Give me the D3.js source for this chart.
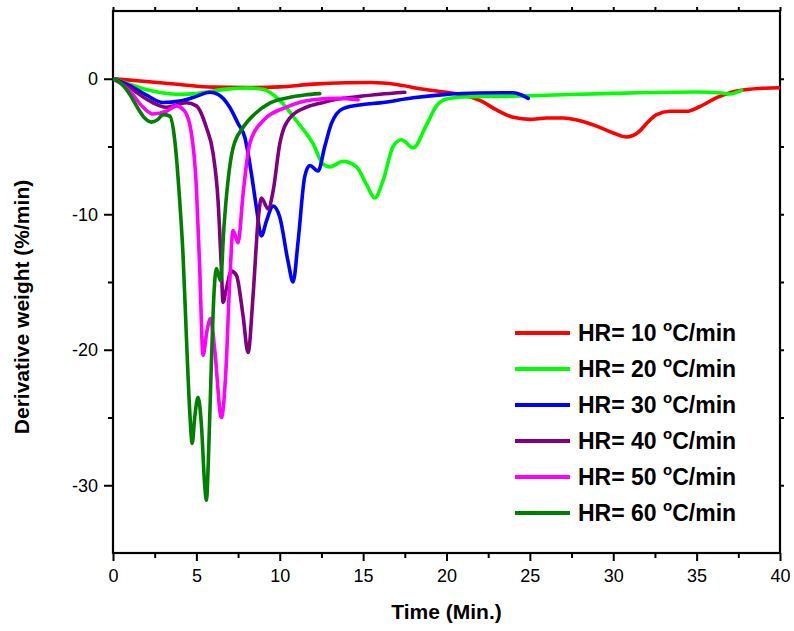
<!DOCTYPE html>
<html>
<head>
<meta charset="utf-8">
<script src="https://cdn.jsdelivr.net/npm/d3@7"></script>
<style>
  body { margin: 0; background: #fff; }
  svg { font-family: "Liberation Sans", Arial, sans-serif; }
</style>
</head>
<body>
<svg id="chart" width="794" height="631"></svg>
<script>
// heating rates shown in the legend
var rates = [10, 20, 30, 40, 50, 60];
var colors = ['#ff0000', '#00ff00', '#0000ff', '#800080', '#ff00ff', '#008000'];

// DTG curves, [time (min), derivative weight (%/min)]
var hr10 = [[0,0],[2,-0.2],[4,-0.42],[6,-0.62],[8,-0.65],[10,-0.6],[12,-0.4],[14,-0.3],[15.5,-0.28],[17,-0.42],[18.5,-0.75],[20,-1.0],[21,-1.2],[22,-1.6],[23,-2.3],[24,-2.85],[25,-3.0],[26,-2.9],[27,-2.9],[28,-3.1],[29,-3.5],[30,-4.0],[30.8,-4.3],[31.5,-3.95],[32,-3.3],[32.6,-2.65],[33.4,-2.4],[34.4,-2.4],[35.2,-2.05],[36.2,-1.4],[37,-1.03],[38,-0.8],[39,-0.7],[40,-0.66]];
var hr20 = [[0,0],[1,-0.4],[2,-0.8],[3,-1.05],[4,-1.15],[5,-1.1],[6,-0.9],[7,-0.75],[8,-0.68],[9,-0.78],[10,-1.6],[11,-3.1],[12,-4.8],[12.6,-6.3],[13,-6.5],[13.8,-6.1],[14.6,-6.5],[15.2,-7.8],[15.7,-8.8],[16.2,-7.5],[16.8,-5.0],[17.3,-4.5],[18,-5.1],[18.8,-3.4],[19.4,-2.0],[20,-1.5],[21,-1.35],[23,-1.3],[25,-1.25],[30,-1.08],[35,-0.98],[36.5,-1.05],[37,-1.12],[37.7,-0.86]];
var hr30 = [[0,0],[1,-0.5],[2,-1.2],[3,-1.75],[4,-1.65],[5,-1.3],[5.8,-1.0],[6.3,-1.15],[7,-2.1],[7.5,-3.3],[7.9,-4.3],[8.3,-7],[8.6,-9.5],[8.9,-11.6],[9.2,-10.5],[9.6,-9.4],[10,-10.2],[10.5,-13.5],[10.8,-15],[11.1,-12],[11.5,-7.2],[11.8,-6.4],[12.3,-6.8],[12.7,-5],[13.1,-3.3],[13.8,-2.2],[15,-1.9],[16,-1.78],[18,-1.4],[20,-1.15],[22,-1.05],[24,-1.03],[24.5,-1.2],[24.9,-1.45]];
var hr40 = [[0,0],[1,-0.66],[2.2,-1.64],[3.2,-2.1],[4.4,-1.77],[5,-2.0],[5.6,-3.6],[6.0,-5.5],[6.3,-9],[6.5,-14],[6.6,-16.5],[6.8,-15.5],[7.1,-14.2],[7.4,-14.5],[7.8,-17.5],[8.1,-20.2],[8.4,-16],[8.7,-10.5],[8.9,-8.8],[9.3,-9.6],[9.6,-8.3],[10,-4.8],[10.6,-2.9],[11.6,-2.1],[12.6,-1.75],[13.5,-1.5],[14.5,-1.35],[16,-1.15],[17.5,-1.0]];
var hr50 = [[0,0],[1,-0.9],[1.8,-2.1],[2.4,-2.6],[3.2,-2.4],[3.8,-2.0],[4.3,-2.4],[4.7,-4],[5.0,-8],[5.2,-14],[5.4,-20.4],[5.65,-18.5],[5.85,-17.7],[6.1,-20],[6.5,-25],[6.75,-22],[7.0,-15],[7.2,-11.2],[7.5,-12.1],[7.8,-8.5],[8.2,-4.8],[9.0,-3.1],[10.4,-2.1],[12,-1.55],[13.5,-1.45],[14.7,-1.55]];
var hr60 = [[0,0],[0.5,-0.35],[1,-1.15],[1.5,-2.2],[1.9,-2.9],[2.3,-3.2],[2.7,-3.0],[3.0,-2.65],[3.4,-2.75],[3.7,-4.5],[4.0,-9],[4.2,-13],[4.4,-19],[4.6,-24.5],[4.75,-26.9],[4.9,-25],[5.1,-23.5],[5.3,-25.5],[5.5,-30],[5.6,-31.1],[5.75,-27],[5.9,-21],[6.05,-16],[6.2,-14.0],[6.45,-14.9],[6.65,-11],[6.9,-7.5],[7.2,-5.1],[7.8,-3.6],[8.5,-2.6],[9.4,-1.8],[10.5,-1.4],[11.5,-1.2],[12.4,-1.1]];
var series = [hr10, hr20, hr30, hr40, hr50, hr60];

var xTicks = [0, 5, 10, 15, 20, 25, 30, 35, 40];
var yTicks = [0, -10, -20, -30];

var margin = {top: 11, right: 14, bottom: 78, left: 113};
var width = 794 - margin.left - margin.right,
    height = 631 - margin.top - margin.bottom;

var svg = d3.select('#chart');
var g = svg.append('g').attr('transform', 'translate(' + margin.left + ',' + margin.top + ')');

var x = d3.scaleLinear().domain([0, 40]).range([0, width]);
var y = d3.scaleLinear().domain([-35, 5]).range([height, 0]);

g.append('clipPath').attr('id', 'plot-clip')
    .append('rect').attr('width', width).attr('height', height);

// minor ticks every 2.5 min / 5 %/min
var xMinor = d3.range(0, 40.01, 2.5).filter(function (d) { return d % 5 !== 0; });
var yMinor = [-5, -15, -25];

// plain hyphen for negatives, like the original figure
var plain = function (d) { return String(d); };

function styleAxis(sel) {
    sel.select('.domain').remove();
    sel.selectAll('.tick line').attr('stroke', '#000').attr('stroke-width', 2);
    sel.selectAll('.tick text').attr('font-size', 18).attr('fill', '#000')
        .attr('font-family', '"Liberation Sans", Arial, sans-serif');
}

g.append('g').attr('transform', 'translate(0,' + height + ')')
    .call(d3.axisBottom(x).tickValues(xTicks).tickSize(8).tickPadding(8).tickFormat(plain))
    .call(styleAxis);
g.append('g').attr('transform', 'translate(0,' + height + ')')
    .call(d3.axisBottom(x).tickValues(xMinor).tickSize(5).tickFormat(''))
    .call(styleAxis);
g.append('g')
    .call(d3.axisLeft(y).tickValues(yTicks).tickSize(9).tickPadding(6).tickFormat(plain))
    .call(styleAxis);
g.append('g')
    .call(d3.axisLeft(y).tickValues(yMinor).tickSize(5).tickFormat(''))
    .call(styleAxis);
// mirrored ticks on top and right
g.append('g')
    .call(d3.axisTop(x).tickValues(xTicks.concat(xMinor)).tickSize(4).tickFormat(''))
    .call(styleAxis);
g.append('g').attr('transform', 'translate(' + width + ',0)')
    .call(d3.axisRight(y).tickValues(yTicks.concat(yMinor)).tickSize(4).tickFormat(''))
    .call(styleAxis);

g.append('rect')
    .attr('width', width).attr('height', height)
    .attr('fill', 'none').attr('stroke', '#000').attr('stroke-width', 2.2);

var line = d3.line()
    .x(function (d) { return x(d[0]); })
    .y(function (d) { return y(d[1]); })
    .curve(d3.curveMonotoneX);

g.append('g').attr('clip-path', 'url(#plot-clip)')
    .selectAll('path.curve')
    .data(series)
    .enter()
    .append('path')
    .attr('class', 'curve')
    .attr('d', line)
    .attr('fill', 'none')
    .attr('stroke', function (d, i) { return colors[i]; })
    .attr('stroke-width', 3.6)
    .attr('stroke-linejoin', 'round')
    .attr('stroke-linecap', 'round');

// legend
var legend = g.append('g').attr('transform', 'translate(' + (515 - margin.left) + ',' + (333 - margin.top) + ')');
var item = legend.selectAll('g.item')
    .data(rates)
    .enter()
    .append('g')
    .attr('class', 'item')
    .attr('transform', function (d, i) { return 'translate(0,' + i * 36 + ')'; });

item.append('line')
    .attr('x1', 0).attr('x2', 55)
    .attr('stroke', function (d, i) { return colors[i]; })
    .attr('stroke-width', 4);

item.append('text')
    .attr('x', 63).attr('y', 8)
    .attr('font-size', 23).attr('font-weight', 'bold')
    .each(function (d) {
        var t = d3.select(this);
        t.append('tspan').text('HR= ' + d + ' ');
        t.append('tspan').text('o').attr('font-size', 15).attr('dy', -10);
        t.append('tspan').text('C/min').attr('dy', 10);
    });

// axis titles
svg.append('text')
    .attr('x', margin.left + width / 2).attr('y', 619)
    .attr('text-anchor', 'middle')
    .attr('font-size', 21).attr('font-weight', 'bold')
    .text('Time (Min.)');

svg.append('text')
    .attr('transform', 'translate(29,' + (margin.top + height / 2 + 25) + ') rotate(-90)')
    .attr('text-anchor', 'middle')
    .attr('font-size', 21).attr('font-weight', 'bold')
    .text('Derivative weight (%/min)');
</script>
</body>
</html>
